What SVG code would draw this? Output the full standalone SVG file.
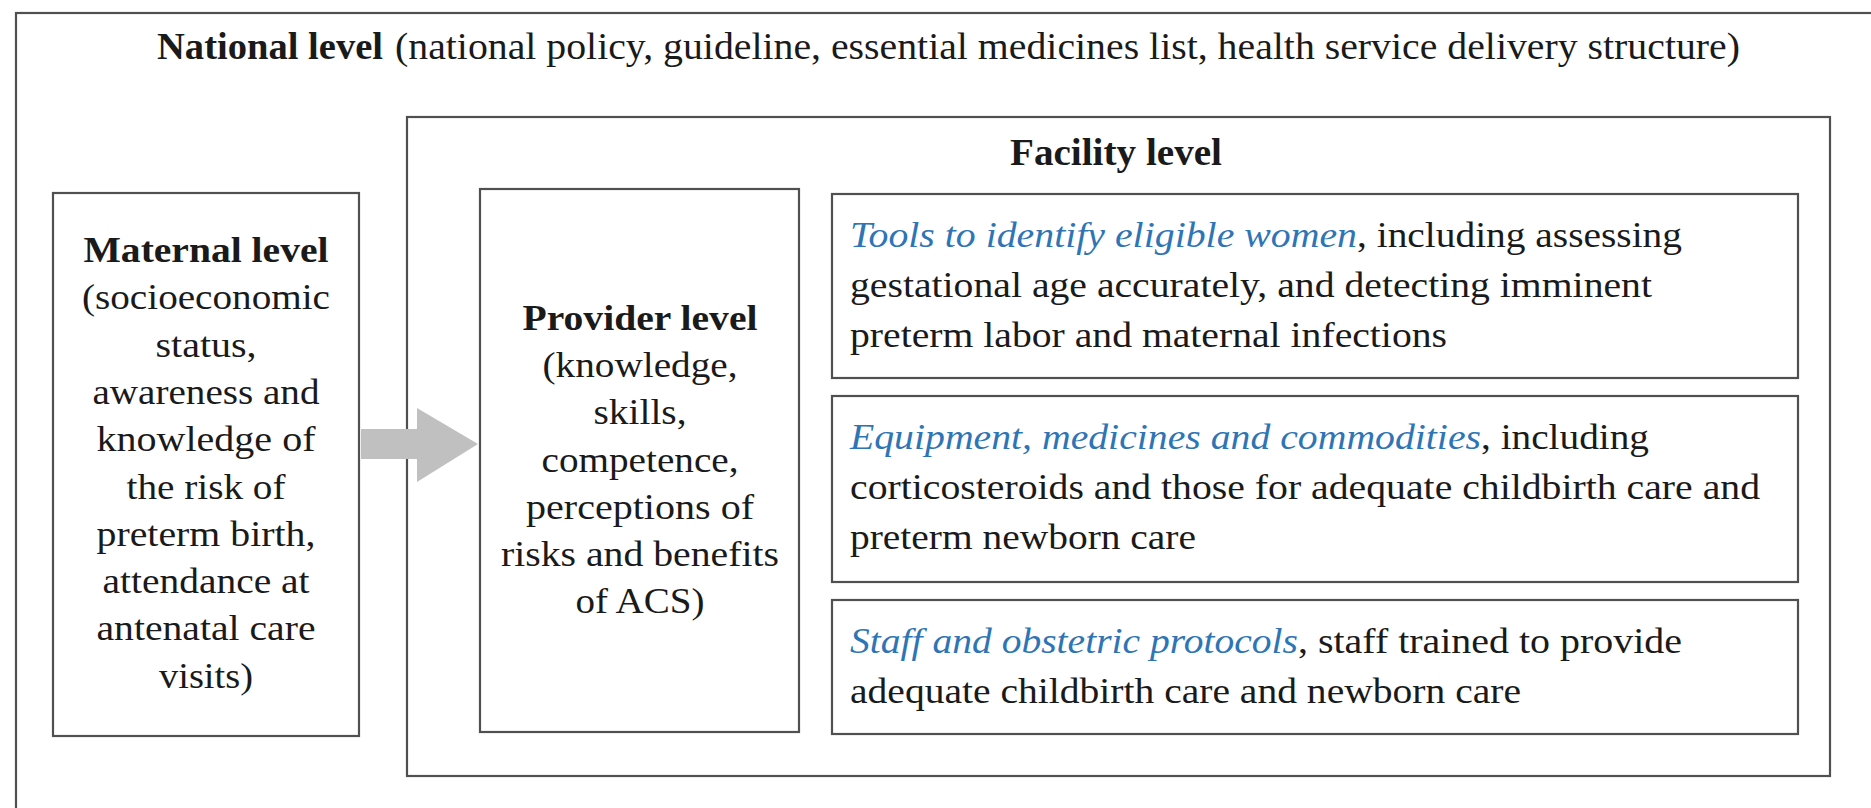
<svg xmlns="http://www.w3.org/2000/svg" width="1871" height="808" viewBox="0 0 1871 808">
<style>
.box{fill:#ffffff;stroke:#505050;stroke-width:2.2}
.t{font-family:"Liberation Serif","Times New Roman",serif;fill:#1a1a1a;font-size:35px}
.b{font-weight:bold}
.i{font-style:italic;fill:#2e75b6}
.c{text-anchor:middle}
.big{font-size:38px}
</style>
<rect width="1871" height="808" fill="#ffffff"/>
<g id="national">
<rect class="box" x="16" y="13" width="1880" height="820"/>
<text class="t b big" x="157" y="59" textLength="226" lengthAdjust="spacingAndGlyphs">National level</text>
<text class="t big" x="395" y="59" textLength="1345" lengthAdjust="spacingAndGlyphs">(national policy, guideline, essential medicines list, health service delivery structure)</text>
</g>
<g id="facility">
<rect class="box" x="407" y="117" width="1423" height="659"/>
<text class="t b big" x="1010" y="165" textLength="212" lengthAdjust="spacingAndGlyphs">Facility level</text>
</g>
<g id="maternal">
<rect class="box" x="53" y="193" width="306" height="543"/>
<text class="t b c" x="206" y="262" textLength="245" lengthAdjust="spacingAndGlyphs">Maternal level</text>
<text class="t c" x="206" y="309" textLength="248" lengthAdjust="spacingAndGlyphs">(socioeconomic</text>
<text class="t c" x="206" y="357" textLength="101" lengthAdjust="spacingAndGlyphs">status,</text>
<text class="t c" x="206" y="404" textLength="227" lengthAdjust="spacingAndGlyphs">awareness and</text>
<text class="t c" x="206" y="451" textLength="219" lengthAdjust="spacingAndGlyphs">knowledge of</text>
<text class="t c" x="206" y="499" textLength="159" lengthAdjust="spacingAndGlyphs">the risk of</text>
<text class="t c" x="206" y="546" textLength="219" lengthAdjust="spacingAndGlyphs">preterm birth,</text>
<text class="t c" x="206" y="593" textLength="207" lengthAdjust="spacingAndGlyphs">attendance at</text>
<text class="t c" x="206" y="640" textLength="219" lengthAdjust="spacingAndGlyphs">antenatal care</text>
<text class="t c" x="206" y="688" textLength="94" lengthAdjust="spacingAndGlyphs">visits)</text>
</g>
<g id="provider">
<rect class="box" x="480" y="189" width="319" height="543"/>
<text class="t b c" x="640" y="330" textLength="235" lengthAdjust="spacingAndGlyphs">Provider level</text>
<text class="t c" x="640" y="377" textLength="195" lengthAdjust="spacingAndGlyphs">(knowledge,</text>
<text class="t c" x="640" y="424" textLength="93" lengthAdjust="spacingAndGlyphs">skills,</text>
<text class="t c" x="640" y="472" textLength="197" lengthAdjust="spacingAndGlyphs">competence,</text>
<text class="t c" x="640" y="519" textLength="228" lengthAdjust="spacingAndGlyphs">perceptions of</text>
<text class="t c" x="640" y="566" textLength="278" lengthAdjust="spacingAndGlyphs">risks and benefits</text>
<text class="t c" x="640" y="613" textLength="129" lengthAdjust="spacingAndGlyphs">of ACS)</text>
</g>
<g id="tools">
<rect class="box" x="832" y="194" width="966" height="184"/>
<text class="t i" x="850" y="247" textLength="507" lengthAdjust="spacingAndGlyphs">Tools to identify eligible women</text>
<text class="t" x="1357" y="247" textLength="325" lengthAdjust="spacingAndGlyphs">, including assessing</text>
<text class="t" x="850" y="297" textLength="802" lengthAdjust="spacingAndGlyphs">gestational age accurately, and detecting imminent</text>
<text class="t" x="850" y="347" textLength="597" lengthAdjust="spacingAndGlyphs">preterm labor and maternal infections</text>
</g>
<g id="equipment">
<rect class="box" x="832" y="396" width="966" height="186"/>
<text class="t i" x="850" y="449" textLength="631" lengthAdjust="spacingAndGlyphs">Equipment, medicines and commodities</text>
<text class="t" x="1481" y="449" textLength="168" lengthAdjust="spacingAndGlyphs">, including</text>
<text class="t" x="850" y="499" textLength="910" lengthAdjust="spacingAndGlyphs">corticosteroids and those for adequate childbirth care and</text>
<text class="t" x="850" y="549" textLength="346" lengthAdjust="spacingAndGlyphs">preterm newborn care</text>
</g>
<g id="staff">
<rect class="box" x="832" y="600" width="966" height="134"/>
<text class="t i" x="850" y="653" textLength="448" lengthAdjust="spacingAndGlyphs">Staff and obstetric protocols</text>
<text class="t" x="1298" y="653" textLength="384" lengthAdjust="spacingAndGlyphs">, staff trained to provide</text>
<text class="t" x="850" y="703" textLength="671" lengthAdjust="spacingAndGlyphs">adequate childbirth care and newborn care</text>
</g>
<g id="connectors">
<path d="M361 429 H417 V408 L478 444 L417 482 V459 H361 Z" fill="#c0c0c0"/>
</g>
</svg>
